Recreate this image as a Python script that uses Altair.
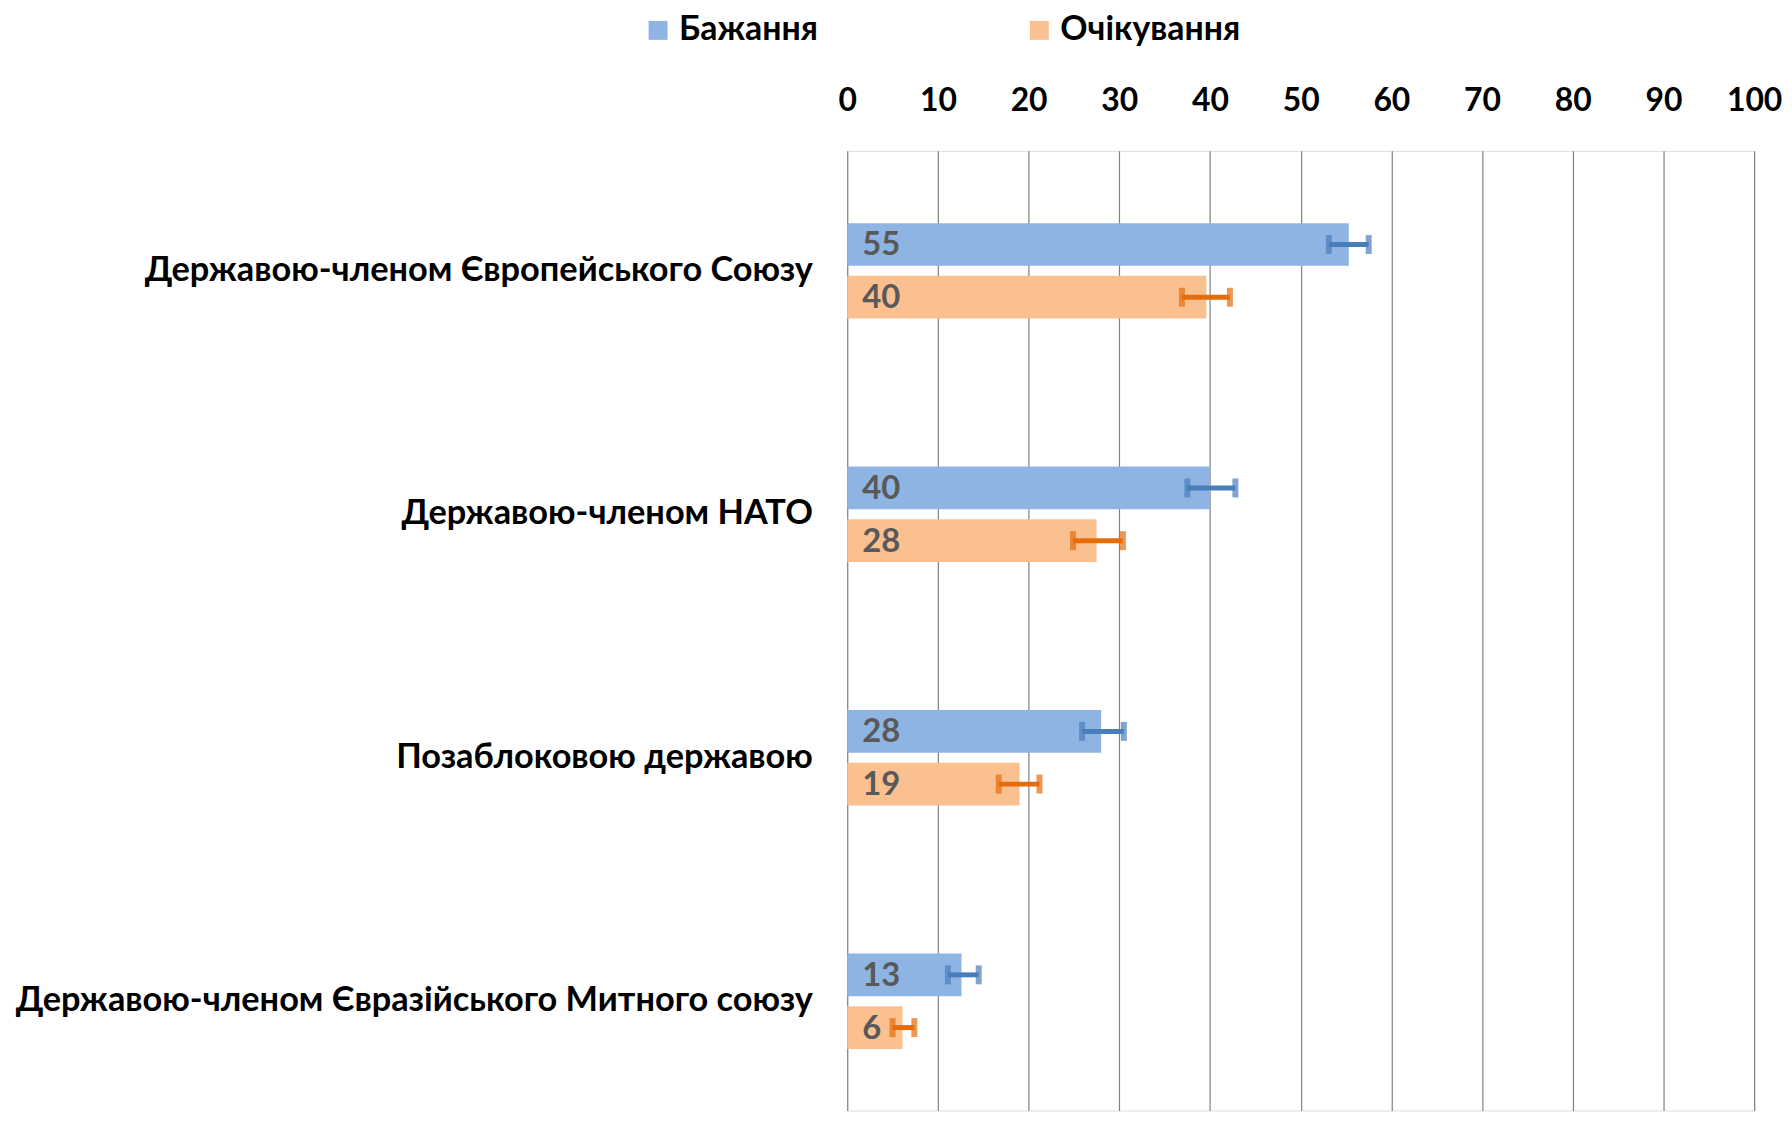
import altair as alt
import pandas as pd

categories = [
    "Державою-членом Європейського Союзу",
    "Державою-членом НАТО",
    "Позаблоковою державою",
    "Державою-членом Євразійського Митного союзу",
]
series = ["Бажання", "Очікування"]
wish = [55.3, 40.0, 28.0, 12.6]
expect = [39.6, 27.5, 19.0, 6.1]
wish_labels = [55, 40, 28, 13]
expect_labels = [40, 28, 19, 6]
wish_lo = [53.1, 37.5, 25.9, 11.1]
wish_hi = [57.5, 42.8, 30.5, 14.5]
expect_lo = [36.9, 24.9, 16.7, 5.0]
expect_hi = [42.2, 30.4, 21.2, 7.4]
x_ticks = [0, 10, 20, 30, 40, 50, 60, 70, 80, 90, 100]

bar_colors = ["#8EB4E3", "#FAC090"]
err_colors = ["#4A7EBB", "#E46C0A"]

rows = []
for i, c in enumerate(categories):
    rows.append(dict(cat=c, s=series[0], v=wish[i], lab=wish_labels[i], lo=wish_lo[i], hi=wish_hi[i]))
    rows.append(dict(cat=c, s=series[1], v=expect[i], lab=expect_labels[i], lo=expect_lo[i], hi=expect_hi[i]))
df = pd.DataFrame(rows)

FONT = "Lato"

y_enc = alt.Y(
    "cat:N",
    sort=categories,
    scale=alt.Scale(paddingInner=0.608, paddingOuter=0.275, align=0.54),
    axis=alt.Axis(
        title=None, domain=False, ticks=False, labelPadding=35, labelLimit=1000,
        labelFont=FONT, labelFontSize=34.5, labelFontWeight="bold", labelColor="#000000",
        grid=False,
    ),
)
yoff = alt.YOffset("s:N", sort=series, scale=alt.Scale(paddingInner=0.19, paddingOuter=0))

x_scale = alt.Scale(domain=[0, 100], nice=False)
x_axis = alt.Axis(
    orient="top", title=None, values=x_ticks, domain=False, ticks=False,
    labelFlush=False, labelOverlap=False,
    labelPadding=34, labelFont=FONT, labelFontSize=32, labelFontWeight="bold",
    labelColor="#000000", grid=True, gridColor="#808080", gridWidth=1.2,
)

base = alt.Chart(df)

bars = base.mark_bar(strokeWidth=0).encode(
    x=alt.X("v:Q", scale=x_scale, axis=x_axis),
    y=y_enc,
    yOffset=yoff,
    color=alt.Color(
        "s:N", sort=series,
        scale=alt.Scale(domain=series, range=bar_colors),
        legend=alt.Legend(
            title=None, orient="none", direction="horizontal",
            legendX=-207, legendY=-138,
            symbolType="square", symbolSize=361, symbolStrokeWidth=0,
            symbolOffset=0, labelOffset=4, columnPadding=205, labelLimit=500,
            labelFont=FONT, labelFontSize=34, labelFontWeight="bold", labelColor="#000000",
        ),
    ),
)

err_color = alt.Color("s:N", sort=series, scale=alt.Scale(domain=series, range=err_colors), legend=None)

rules = base.mark_rule(strokeWidth=5).encode(
    x=alt.X("lo:Q", scale=x_scale),
    x2="hi:Q",
    y=y_enc,
    yOffset=yoff,
    color=err_color,
)

caps_lo = base.mark_tick(size=19, thickness=6).encode(
    x=alt.X("lo:Q", scale=x_scale),
    y=y_enc,
    yOffset=yoff,
    color=err_color,
)
caps_hi = base.mark_tick(size=19, thickness=6).encode(
    x=alt.X("hi:Q", scale=x_scale),
    y=y_enc,
    yOffset=yoff,
    color=err_color,
)

labels = base.mark_text(
    align="left", baseline="middle", dx=15, dy=1,
    font=FONT, fontSize=33, fontWeight="bold", color="#595959",
).encode(
    x=alt.datum(0, scale=x_scale),
    y=y_enc,
    yOffset=yoff,
    text="lab:Q",
)

chart = (
    alt.layer(bars, rules, caps_lo, caps_hi, labels)
    .resolve_scale(color="independent")
    .properties(
        width=911, height=964,
        autosize=alt.AutoSizeParams(type="none"),
        padding={"left": 843, "top": 141, "right": 30, "bottom": 0},
    )
    .configure_view(stroke=None)
    .configure(background="#ffffff")
)

chart.save("out.html", embed_options={"renderer": "svg", "actions": False})
